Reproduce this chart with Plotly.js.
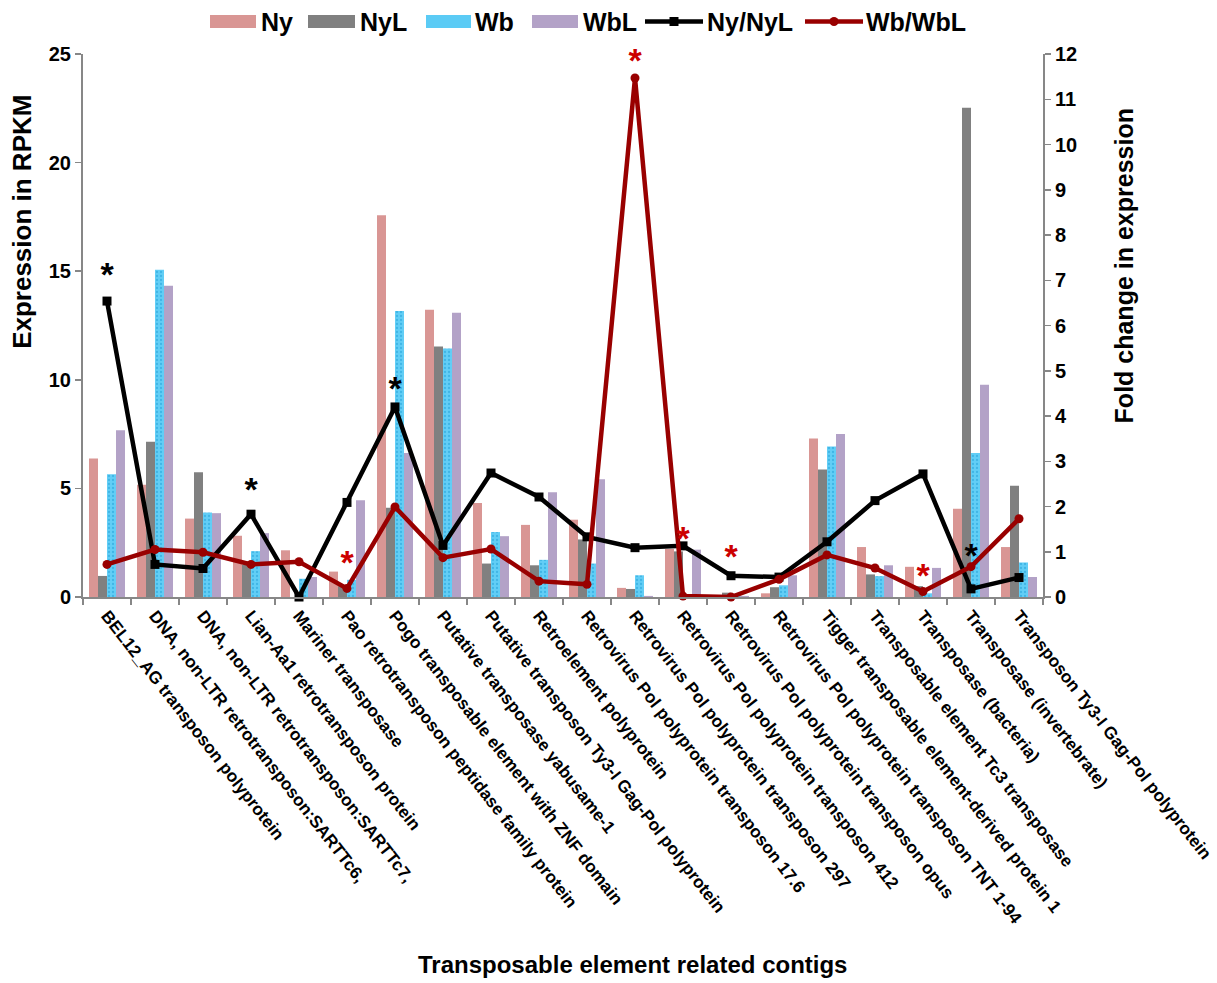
<!DOCTYPE html>
<html>
<head>
<meta charset="utf-8">
<script src="https://cdn.plot.ly/plotly-3.0.1.min.js"></script>
<style>html,body{margin:0;padding:0;background:#fff;}#chart{width:1217px;height:983px;}</style>
</head>
<body>
<div id="chart"></div>
<script>
const categories = [
  "BEL12_AG transposon polyprotein",
  "DNA, non-LTR retrotransposon:SARTTc6,",
  "DNA, non-LTR retrotransposon:SARTTc7,",
  "Lian-Aa1 retrotransposon protein",
  "Mariner transposase",
  "Pao retrotransposon peptidase family protein",
  "Pogo transposable element with ZNF domain",
  "Putative transposase yabusame-1",
  "Putative transposon Ty3-I Gag-Pol polyprotein",
  "Retroelement polyprotein",
  "Retrovirus Pol polyprotein transposon 17.6",
  "Retrovirus Pol polyprotein transposon 297",
  "Retrovirus Pol polyprotein transposon 412",
  "Retrovirus Pol polyprotein transposon opus",
  "Retrovirus Pol polyprotein transposon TNT 1-94",
  "Tigger transposable element-derived protein 1",
  "Transposable element Tc3 transposase",
  "Transposase (bacteria)",
  "Transposase (invertebrate)",
  "Transposon Ty3-I Gag-Pol polyprotein"
];
const ny    = [6.38, 5.17, 3.61, 2.82, 2.15, 1.17, 17.58, 13.22, 4.33, 3.32, 3.56, 0.42, 2.21, 0.02, 0.17, 7.30, 2.30, 1.39, 4.06, 2.30];
const nyl   = [0.97, 7.15, 5.74, 1.50, 0.00, 0.50, 4.11, 11.53, 1.54, 1.46, 2.65, 0.37, 2.10, 0.20, 0.45, 5.87, 1.04, 0.50, 22.53, 5.12];
const wb    = [5.65, 15.07, 3.89, 2.11, 0.84, 0.79, 13.17, 11.44, 2.99, 1.71, 1.54, 1.00, 0.05, 0.05, 0.54, 6.93, 0.96, 0.17, 6.63, 1.59];
const wbl   = [7.68, 14.33, 3.86, 2.94, 0.92, 4.46, 6.63, 13.09, 2.80, 4.82, 5.42, 0.05, 2.18, 0.05, 1.00, 7.50, 1.46, 1.34, 9.77, 0.92];
const nyRatio = [6.54, 0.72, 0.63, 1.83, 0.00, 2.09, 4.20, 1.14, 2.74, 2.21, 1.33, 1.09, 1.13, 0.47, 0.44, 1.22, 2.13, 2.72, 0.18, 0.43];
const wbRatio = [0.72, 1.05, 0.99, 0.72, 0.78, 0.19, 1.99, 0.87, 1.06, 0.35, 0.28, 11.47, 0.02, 0.00, 0.39, 0.93, 0.64, 0.12, 0.67, 1.73];

// significance marks (fold-change axis)
const blackStarCats = [categories[0], categories[3], categories[6], categories[18]];
const blackStarY    = [7.05, 2.30, 4.55, 0.85];
const redStarCats   = [categories[5], categories[11], categories[12], categories[13], categories[17]];
const redStarY      = [0.70, 11.80, 1.22, 0.82, 0.40];

const seriesNames = ["Ny", "NyL", "Wb", "WbL", "Ny/NyL", "Wb/WbL"];
const seriesColors = ["#D99694", "#808080", "#5BCBF5", "#B3A2C7", "#000000", "#990000"];

const FONT = "Liberation Sans, Arial, sans-serif";
const AXIS_GREY = "#878787";

const traces = [
  {type: "bar", name: seriesNames[0], x: categories, y: ny, marker: {color: seriesColors[0]}},
  {type: "bar", name: seriesNames[1], x: categories, y: nyl, marker: {color: seriesColors[1]}},
  {type: "bar", name: seriesNames[2], x: categories, y: wb,
   marker: {color: seriesColors[2], pattern: {shape: ".", size: 4, solidity: 0.25, fgcolor: "#3FB6E6", bgcolor: "#62CEF6"}}},
  {type: "bar", name: seriesNames[3], x: categories, y: wbl, marker: {color: seriesColors[3]}},
  {type: "scatter", mode: "lines+markers", name: seriesNames[4], x: categories, y: nyRatio, yaxis: "y2",
   line: {color: seriesColors[4], width: 4.5}, marker: {symbol: "square", size: 9, color: seriesColors[4]}, cliponaxis: false},
  {type: "scatter", mode: "lines+markers", name: seriesNames[5], x: categories, y: wbRatio, yaxis: "y2",
   line: {color: seriesColors[5], width: 4.5}, marker: {symbol: "circle", size: 9, color: seriesColors[5]}, cliponaxis: false},
  {type: "scatter", mode: "text", x: blackStarCats, y: blackStarY, yaxis: "y2", text: blackStarCats.map(() => "*"),
   textposition: "middle center", textfont: {family: FONT, size: 34, color: "#000000", weight: 700},
   showlegend: false, hoverinfo: "skip", cliponaxis: false},
  {type: "scatter", mode: "text", x: redStarCats, y: redStarY, yaxis: "y2", text: redStarCats.map(() => "*"),
   textposition: "middle center", textfont: {family: FONT, size: 34, color: "#CC0000", weight: 700},
   showlegend: false, hoverinfo: "skip", cliponaxis: false}
];
traces.forEach(t => { t.showlegend = false; });

// ---- custom legend (wide Excel-style swatches) ----
const PL = 83, PR = 1043, PT = 54, PB = 597;
const px = v => (v - PL) / (PR - PL);
const py = v => (PB - v) / (PB - PT);
const legendY = 21.5;
const swatchX = [[210, 256], [308, 355], [426, 471], [532, 578], [645, 703], [805, 863]];
const labelX = [259, 358, 473, 581, 705, 864];
const shapes = [];
const annotations = [];
seriesNames.forEach((name, i) => {
  const [a, b] = swatchX[i];
  if (i < 4) {
    shapes.push({type: "rect", xref: "paper", yref: "paper", x0: px(a), x1: px(b), y0: py(legendY + 6.5), y1: py(legendY - 6.5),
                 fillcolor: seriesColors[i], line: {width: 0}});
  } else {
    shapes.push({type: "line", xref: "paper", yref: "paper", x0: px(a), x1: px(b), y0: py(legendY), y1: py(legendY),
                 line: {color: seriesColors[i], width: 4.5}});
    const m = (a + b) / 2;
    shapes.push({type: i === 4 ? "rect" : "circle", xref: "paper", yref: "paper",
                 x0: px(m - 4.5), x1: px(m + 4.5), y0: py(legendY + 4.5), y1: py(legendY - 4.5),
                 fillcolor: seriesColors[i], line: {width: 0}});
  }
  annotations.push({text: name, xref: "paper", yref: "paper", x: px(labelX[i]), y: py(legendY), xanchor: "left", yanchor: "middle",
                    showarrow: false, font: {family: FONT, size: 25, color: "#000000", weight: 700}});
});

annotations.push(
  {text: "Expression in RPKM", xref: "paper", yref: "paper", x: -0.063, y: 0.69, xanchor: "center", yanchor: "middle",
   textangle: -90, showarrow: false, font: {family: FONT, size: 26, color: "#000000", weight: 700}},
  {text: "Fold change in expression", xref: "paper", yref: "paper", x: 1.084, y: 0.61, xanchor: "center", yanchor: "middle",
   textangle: -90, showarrow: false, font: {family: FONT, size: 25, color: "#000000", weight: 700}},
  {text: "Transposable element related contigs", xref: "paper", yref: "paper", x: 0.572, y: -0.677, xanchor: "center", yanchor: "middle",
   showarrow: false, font: {family: FONT, size: 24, color: "#000000", weight: 700}}
);

const layout = {
  width: 1217, height: 983,
  paper_bgcolor: "#ffffff", plot_bgcolor: "#ffffff",
  font: {family: FONT, color: "#000000", weight: 700},
  margin: {l: 83, r: 174, t: 54, b: 386, autoexpand: false},
  barmode: "group", bargap: 0.25, bargroupgap: 0,
  showlegend: false,
  xaxis: {type: "category", range: [-0.5, categories.length - 0.5], tickangle: 52, tickson: "boundaries", ticks: "outside", ticklen: 6,
          tickcolor: AXIS_GREY, tickwidth: 1.5, showline: true, linecolor: AXIS_GREY, linewidth: 2,
          showgrid: false, zeroline: false, automargin: false,
          tickfont: {family: FONT, size: 17.2, color: "#000000", weight: 700}},
  yaxis: {range: [0, 25], dtick: 5, ticks: "outside", ticklen: 6, tickcolor: AXIS_GREY, tickwidth: 1.5,
          showline: true, linecolor: AXIS_GREY, linewidth: 2, showgrid: false, zeroline: false, automargin: false,
          tickfont: {family: FONT, size: 20, color: "#000000", weight: 700}},
  yaxis2: {range: [0, 12], dtick: 1, overlaying: "y", side: "right", ticks: "outside", ticklen: 6,
           tickcolor: AXIS_GREY, tickwidth: 1.5, showline: true, linecolor: AXIS_GREY, linewidth: 2,
           showgrid: false, zeroline: false, automargin: false,
           tickfont: {family: FONT, size: 20, color: "#000000", weight: 700}},
  shapes: shapes,
  annotations: annotations
};

Plotly.newPlot("chart", traces, layout, {displayModeBar: false, staticPlot: true});
</script>
</body>
</html>
